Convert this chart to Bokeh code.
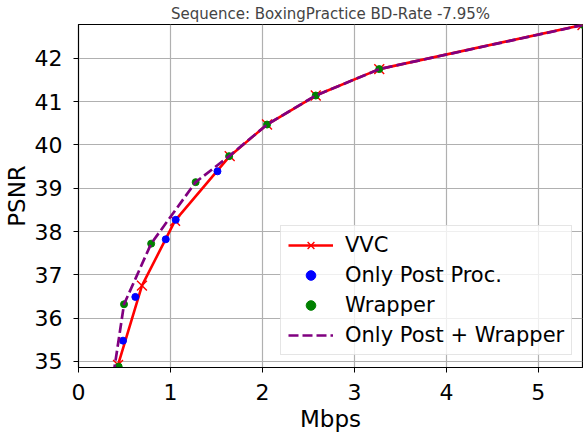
from bokeh.plotting import figure
from bokeh.models import Legend, LegendItem, FixedTicker, Range1d
from bokeh.embed import file_html
from bokeh.resources import INLINE

title_text = "Sequence: BoxingPractice BD-Rate -7.95%"

vvc_x = [0.43, 0.69, 1.05, 1.644, 2.05, 2.58, 3.27, 5.48]
vvc_y = [34.92, 36.75, 38.25, 39.74, 40.47, 41.14, 41.75, 42.77]

post_x = [0.484, 0.618, 0.949, 1.057, 1.511]
post_y = [35.48, 36.49, 37.82, 38.27, 39.39]

wrap_x = [0.437, 0.495, 0.79, 1.274, 1.638, 2.05, 2.58, 3.27, 5.49]
wrap_y = [34.88, 36.32, 37.72, 39.14, 39.74, 40.47, 41.14, 41.75, 42.77]

both_x = [0.38, 0.495, 0.79, 1.274, 1.638, 2.05, 2.58, 3.27, 5.49]
both_y = [34.7, 36.32, 37.72, 39.14, 39.74, 40.47, 41.14, 41.75, 42.77]

x_ticks = [0, 1, 2, 3, 4, 5]
y_ticks = [35, 36, 37, 38, 39, 40, 41, 42]

FONT = "DejaVu Sans"

p = figure(width=583, height=434, output_backend="svg", toolbar_location=None,
           x_range=Range1d(0, 5.48), y_range=Range1d(34.86, 42.78),
           min_border_left=0, min_border_right=1, min_border_top=0, min_border_bottom=0,
           background_fill_color="white", border_fill_color="white")

p.title.text = title_text
p.title.align = "center"
p.title.text_font = FONT
p.title.text_font_size = "15px"
p.title.text_font_style = "normal"
p.title.standoff = 4

p.outline_line_color = "black"
p.outline_line_width = 1.2
p.outline_line_alpha = 1

for ax in (p.xaxis[0], p.yaxis[0]):
    ax.major_label_text_font = FONT
    ax.major_label_text_font_size = "22px"
    ax.major_label_text_color = "black"
    ax.axis_label_text_font = FONT
    ax.axis_label_text_font_size = "23px"
    ax.axis_label_text_font_style = "normal"
    ax.axis_label_text_color = "black"
    ax.major_tick_in = 0
    ax.major_tick_out = 5
    ax.minor_tick_line_color = None
    ax.axis_line_color = "black"
    ax.major_tick_line_color = "black"
    ax.axis_label_standoff = 2
p.yaxis.major_label_standoff = 11
p.xaxis.major_label_standoff = 11
p.xaxis.axis_label_standoff = 3

p.xaxis.ticker = FixedTicker(ticks=x_ticks)
p.yaxis.ticker = FixedTicker(ticks=y_ticks)
p.xaxis.axis_label = "Mbps"
p.yaxis.axis_label = "PSNR"

p.grid.grid_line_color = "#b0b0b0"
p.grid.grid_line_width = 1.2
p.xgrid.ticker = FixedTicker(ticks=x_ticks)
p.ygrid.ticker = FixedTicker(ticks=y_ticks)

vl = p.line(vvc_x, vvc_y, line_color="red", line_width=2.6)
vm = p.scatter(vvc_x, vvc_y, marker="x", size=14, line_color="red", line_width=1.4)
pm = p.scatter(post_x, post_y, marker="circle", size=7, fill_color="blue", line_color="blue")
wm = p.scatter(wrap_x, wrap_y, marker="circle", size=7, fill_color="green", line_color="green")
bl = p.line(both_x, both_y, line_color="purple", line_width=2.7, line_dash="10 4")

legend = Legend(items=[
    LegendItem(label="VVC", renderers=[vl, vm]),
    LegendItem(label="Only Post Proc.", renderers=[pm]),
    LegendItem(label="Wrapper", renderers=[wm]),
    LegendItem(label="Only Post + Wrapper", renderers=[bl]),
], location=(202, 12))
legend.label_text_font = FONT
legend.label_text_font_size = "21px"
legend.label_text_color = "black"
legend.glyph_width = 45
legend.glyph_height = 24
legend.label_height = 24
legend.label_standoff = 12
legend.spacing = 6
legend.padding = 7
legend.margin = 0
legend.border_line_color = "#cccccc"
legend.border_line_width = 1
legend.background_fill_alpha = 0.8
legend.background_fill_color = "white"
p.add_layout(legend, "center")

open("out.html", "w").write(file_html(p, INLINE))
